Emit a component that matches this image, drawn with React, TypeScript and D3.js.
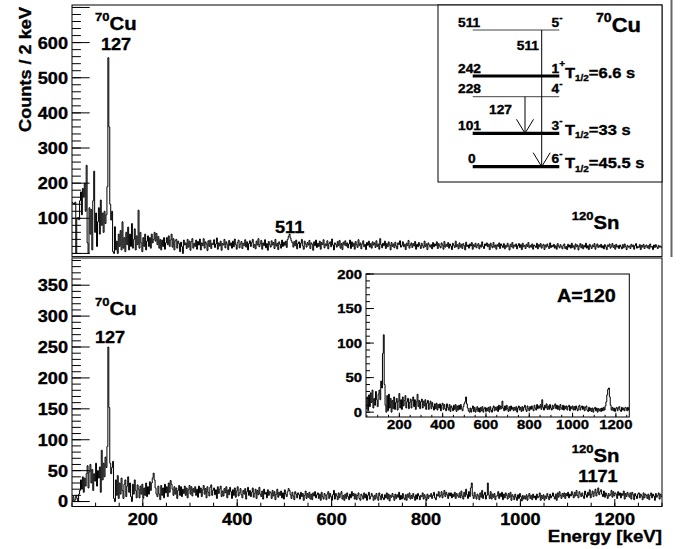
import React from "react";
import * as d3 from "d3";

// ---------- DATA ----------
const E0 = 50; // keV, first bin edge of main spectra
const BIN = 2; // keV per bin
// top panel: 70Cu spectrum (counts / 2 keV), bins from 50 keV
const topCounts = [
  145,142,140,146,0,98,102,96,150,175,
  110,185,160,200,120,251,30,0,130,55,
  125,10,150,234,60,115,20,90,130,55,
  152,80,115,60,120,85,110,190,557,360,
  140,95,120,5,0,76,10,35,0,55,
  20,65,10,90,15,45,5,60,25,75,
  10,55,20,85,15,40,70,10,50,25,
  123,15,60,30,5,45,20,55,10,35,
  50,20,45,15,55,30,40,60,35,57,
  25,48,15,40,10,38,20,45,12,30,
  45,25,50,20,38,55,18,42,10,36,
  40,15,35,28,5,32,20,0,38,24,
  30,14,40,18,35,9,33,42,15,29,
  20,38,12,34,24,41,10,30,22,42,
  15,33,27,8,36,20,38,14,29,25,
  39,17,27,44,12,30,21,35,9,28,
  24,40,16,33,26,11,37,22,30,15,
  35,19,41,25,12,31,38,16,27,34,
  14,29,22,39,18,33,10,28,36,20,
  31,40,17,26,13,35,24,42,19,27,
  37,12,30,22,39,16,28,9,34,25,
  18,36,24,31,14,40,21,29,11,33,
  26,15,38,20,32,23,35,17,40,48,
  55,44,36,30,18,34,22,38,13,28,
  33,16,29,40,21,12,35,27,18,31,
  24,37,14,30,26,9,33,22,38,17,
  29,20,35,12,31,25,39,16,27,22,
  36,13,28,33,19,41,24,10,30,26,
  18,34,22,37,15,28,11,32,24,36,
  21,30,16,27,38,14,33,20,29,12,
  34,25,17,39,22,30,13,27,36,19,
  26,11,31,23,35,18,28,15,33,24,
  30,17,36,20,27,12,42,25,16,29,
  22,35,14,28,19,33,24,10,31,20,
  27,16,32,21,13,30,25,36,18,23,
  33,19,26,11,29,22,37,15,24,30,
  17,28,21,34,12,26,19,31,23,14,
  29,22,16,35,20,27,11,30,24,18,
  25,13,31,19,27,22,33,14,28,21,
  16,30,24,12,34,18,26,20,31,15,
  27,21,11,29,23,17,35,19,25,13,
  30,18,26,14,28,22,10,32,20,24,
  15,27,21,31,12,25,19,29,16,23,
  28,13,24,18,33,20,14,27,22,30,
  19,26,11,29,21,16,31,18,24,12,
  25,20,30,14,27,22,17,28,13,23,
  18,29,21,10,26,19,31,15,24,20,
  27,13,22,28,17,25,11,29,19,23,
  14,26,20,31,16,23,18,27,12,24,
  21,17,29,13,25,19,28,15,22,26,
  11,24,18,27,20,14,30,17,23,19,
  26,15,22,12,28,21,16,25,19,13,
  23,27,14,20,11,26,18,24,15,29,
  17,22,12,27,19,24,10,21,28,16,
  25,13,23,18,29,15,22,11,26,20,
  14,24,19,28,12,21,27,17,23,18,
  26,16,22,13,25,19,11,24,20,27,
  15,21,28,17,23,12,26,18,22,14,
  24,19,13,25,16,27,20,11,23,18,
  21,14,26,19,24,12,22,28,15,20,
  17,25,11,23,18,26,14,21,24,16,
  22,13,27,18,20,11,24,17,25,19,
  14,23,18,21,16,
];
// bottom panel: 120Sn spectrum (counts / 2 keV), bins from 50 keV
const bottomCounts = [
  2,8,0,3,10,5,0,12,18,35,
  20,40,15,38,25,45,58,22,48,60,
  30,52,18,45,33,62,25,50,38,56,
  15,83,35,62,40,72,55,89,250,152,
  62,45,55,65,5,0,35,10,42,5,
  30,12,38,18,5,28,35,8,25,40,
  15,30,8,0,28,12,35,18,6,27,
  20,6,25,12,28,5,22,10,30,8,
  24,12,32,18,30,38,46,35,22,12,
  8,25,12,3,26,10,22,6,28,14,
  24,8,30,15,34,28,20,10,24,12,
  22,5,18,26,10,24,8,20,13,25,
  10,22,6,19,26,12,24,9,21,15,
  24,10,20,7,25,14,22,8,19,26,
  12,21,6,24,15,9,23,27,10,18,
  22,11,19,5,24,13,20,25,8,17,
  9,21,14,24,6,19,11,23,16,5,
  19,10,22,7,17,24,9,14,21,11,
  6,18,12,21,4,16,23,10,18,8,
  15,22,7,13,20,5,18,11,23,12,
  8,17,4,20,12,15,6,19,10,16,
  14,5,18,9,16,3,12,20,7,15,
  10,17,6,14,4,19,12,8,16,21,
  18,11,5,15,9,3,16,12,6,14,
  11,4,15,8,13,2,10,17,5,13,
  7,15,4,12,3,14,9,16,6,11,
  14,5,12,2,15,8,4,13,10,3,
  12,16,5,13,8,2,11,18,4,13,
  9,3,14,6,12,16,4,10,2,12,
  5,14,8,3,12,6,16,9,13,4,
  12,3,10,14,5,2,12,9,4,14,
  6,12,2,10,15,4,8,13,9,2,
  10,4,13,7,2,14,9,3,12,6,
  3,11,6,14,4,12,1,10,7,13,
  8,2,12,5,11,7,15,3,10,4,
  13,6,3,11,2,12,7,14,4,10,
  5,13,8,2,11,4,13,9,3,10,
  8,14,4,11,7,2,12,5,10,8,
  13,5,10,15,6,3,12,9,16,7,
  10,16,6,12,18,8,15,11,5,14,
  9,14,6,12,8,15,5,13,10,7,
  14,6,17,9,4,15,8,20,11,5,
  16,8,22,30,10,5,15,9,4,12,
  9,3,14,7,18,5,11,15,4,10,
  30,11,5,16,4,12,7,13,3,9,
  9,16,5,13,8,15,3,12,6,14,
  10,4,13,7,15,2,11,8,3,12,
  7,2,11,5,13,8,1,10,4,9,
  4,11,2,9,13,5,10,3,12,6,
  9,3,12,6,8,14,2,10,5,11,
  2,9,5,13,8,3,12,6,9,14,
  8,4,12,2,14,7,16,10,5,13,
  8,14,5,13,9,15,6,12,9,16,
  11,6,15,9,18,10,6,16,12,8,
  14,9,5,17,11,7,15,10,19,6,
  12,17,8,14,20,9,15,22,11,16,
  19,12,8,17,7,14,10,5,13,9,
  11,18,7,16,9,14,12,5,16,10,
  14,6,13,10,17,4,13,8,15,11,
  7,14,4,15,11,3,13,9,5,12,
  14,6,12,9,3,14,6,12,10,5,
  12,3,10,14,6,12,9,2,13,7,
  10,14,4,12,8,
];
// inset: A=120 spectrum, 4 keV bins from 46 keV
const INSET_E0 = 46;
const INSET_BIN = 4;
const insetCounts = [
  5,22,2,25,8,28,14,32,6,20,
  10,30,18,8,26,32,18,45,35,85,
  112,40,10,0,24,2,26,6,20,0,
  17,5,22,4,14,20,3,16,27,6,
  18,4,22,9,17,24,6,15,20,5,
  14,19,6,17,22,8,18,4,15,26,
  8,17,5,15,19,6,16,9,18,4,
  13,17,4,12,16,5,14,8,3,12,
  5,13,3,11,6,12,2,10,13,4,
  11,5,2,12,7,3,11,1,9,6,
  2,10,4,11,1,9,3,10,4,11,
  5,2,8,12,15,22,12,6,2,0,
  6,0,5,9,1,7,0,4,8,1,
  6,0,7,2,8,0,5,7,1,6,
  2,7,0,8,3,0,6,9,2,7,
  3,8,1,10,4,9,5,16,6,2,
  9,3,10,5,1,8,2,9,4,7,
  2,7,3,8,0,6,9,3,7,1,
  8,2,7,10,4,1,9,5,2,8,
  4,9,5,2,10,6,3,11,5,9,
  6,11,4,18,7,3,10,6,12,4,
  9,4,11,6,3,10,5,9,12,5,
  10,4,9,3,11,6,4,10,3,9,
  5,9,3,8,10,2,8,5,9,3,
  8,3,9,5,2,8,10,3,7,9,
  4,8,2,7,9,3,1,7,2,6,
  1,6,0,5,7,2,6,0,5,2,
  5,1,6,2,7,3,9,15,25,33,
  35,22,10,3,7,2,6,1,5,7,
  2,6,8,3,1,7,3,6,2,7,
  6,2,7,3,
];

const xTicks = [200, 400, 600, 800, 1000, 1200];
const topYTicks = [100, 200, 300, 400, 500, 600];
const bottomYTicks = [0, 50, 100, 150, 200, 250, 300, 350];
const insetXTicks = [200, 400, 600, 800, 1000, 1200];
const insetYTicks = [0, 50, 100, 150, 200];

// level scheme of 70Cu
const levelEnergies = ["511", "242", "228", "101", "0"];
const levelSpins = ["5", "1", "4", "3", "6"];
const levelParities = ["-", "+", "-", "-", "-"];
const levelThick = [false, true, false, true, true];
const levelHalfLives = ["", "6.6 s", "", "33 s", "45.5 s"];
const transitionLabels = ["511", "127"];
const transitionFrom = [0, 2];
const transitionTo = [4, 3];

// ---------- LAYOUT ----------
const FONT = "'Liberation Sans', Arial, Helvetica, sans-serif";
const SX = 1.1;
const FX0 = 72, FX1 = 662;
const levelY = [30, 76, 96.7, 133.3, 166.7];
const transitionX = [541.7, 525];
const transitionLabelPos = [[539, 49.5], [512, 113.5]];

const xMain = d3.scaleLinear().domain([50, 1300]).range([FX0, FX1]);
const topY = d3.scaleLinear().domain([-9, 707]).range([256.6, 5]);
const botY = d3.scaleLinear().domain([-8, 394]).range([506.5, 258]);
const xIn = d3.scaleLinear().domain([46, 1262]).range([366, 629.3]);
const yIn = d3.scaleLinear().domain([-7, 200]).range([417, 274]);

function T({ x, y, size, anchor = "start", rot = 0, children }: any) {
  return (
    <text
      transform={`translate(${x},${y}) rotate(${rot}) scale(${SX},1)`}
      fontSize={size}
      textAnchor={anchor}
      fontFamily={FONT}
      fontWeight="bold"
      fill="#000"
      stroke="#000"
      strokeWidth={0.35}
    >
      {children}
    </text>
  );
}

function Nuc({ x, y, mass, el, size = 17 }: any) {
  return (
    <T x={x} y={y} size={size}>
      <tspan fontSize={size * 0.64} dy={-size * 0.48}>{mass}</tspan>
      <tspan dy={size * 0.48}>{el}</tspan>
    </T>
  );
}

function histPath(counts: number[], e0: number, bw: number, x: any, y: any) {
  const pts: [number, number][] = [];
  counts.forEach((c, i) => {
    pts.push([x(e0 + i * bw), y(c)]);
    pts.push([x(e0 + (i + 1) * bw), y(c)]);
  });
  return d3.line()(pts) as string;
}

function steps(lo: number, hi: number, step: number) {
  const out: number[] = [];
  for (let v = Math.ceil(lo / step) * step; v <= hi + 1e-9; v += step) out.push(v);
  return out;
}

function YAxis({ scale, x0, majors, minorStep, majorLen, minorLen, labelSize, labelX, majorStep }: any) {
  const [lo, hi] = scale.domain();
  return (
    <g>
      {steps(lo, hi, minorStep).map((v: number) => (
        <line key={"m" + v} x1={x0} x2={x0 + minorLen} y1={scale(v)} y2={scale(v)} stroke="#000" strokeWidth={1} />
      ))}
      {steps(lo, hi, majorStep).map((v: number) => (
        <line key={"M" + v} x1={x0} x2={x0 + majorLen} y1={scale(v)} y2={scale(v)} stroke="#000" strokeWidth={1} />
      ))}
      {majors.map((v: number) => (
        <T key={"l" + v} x={labelX} y={scale(v) + labelSize * 0.36} size={labelSize} anchor="end">{v}</T>
      ))}
    </g>
  );
}

function XAxis({ scale, y0, majors, minorStep, majorLen, minorLen, labelSize, labelY }: any) {
  const [lo, hi] = scale.domain();
  return (
    <g>
      {steps(lo, hi, minorStep).map((v: number) => (
        <line key={"m" + v} x1={scale(v)} x2={scale(v)} y1={y0} y2={y0 - minorLen} stroke="#000" strokeWidth={1} />
      ))}
      {majors.map((v: number) => (
        <line key={"M" + v} x1={scale(v)} x2={scale(v)} y1={y0} y2={y0 - majorLen} stroke="#000" strokeWidth={1} />
      ))}
      {majors.map((v: number) => (
        <T key={"l" + v} x={scale(v)} y={labelY} size={labelSize} anchor="middle">{v}</T>
      ))}
    </g>
  );
}

export default function App() {
  const topPath = histPath(topCounts, E0, BIN, xMain, topY);
  const botPath = histPath(bottomCounts, E0, BIN, xMain, botY);
  const inPath = histPath(insetCounts, INSET_E0, INSET_BIN, xIn, yIn);
  const lx0 = 472.7, lx1 = 559.3;

  return (
    <svg width={685} height={549} style={{ position: "absolute", left: 0, top: 0, background: "#fff" }}>
      <rect x={0} y={0} width={685} height={549} fill="#fff" />
      <defs>
        <clipPath id="cTop"><rect x={FX0} y={5} width={FX1 - FX0} height={251.6} /></clipPath>
        <clipPath id="cBot"><rect x={FX0} y={258} width={FX1 - FX0} height={248.5} /></clipPath>
        <clipPath id="cIn"><rect x={366} y={274} width={263.3} height={143} /></clipPath>
      </defs>

      {/* pad border on the right of the top pad */}
      <line x1={671.5} x2={671.5} y1={0} y2={257} stroke="#666" strokeWidth={2} />

      {/* ---------------- TOP PANEL ---------------- */}
      <path d={topPath} fill="none" stroke="#000" strokeWidth={1} clipPath="url(#cTop)" />
      <rect x={FX0} y={5} width={FX1 - FX0} height={251.6} fill="none" stroke="#000" strokeWidth={1} />
      <YAxis scale={topY} x0={FX0} majors={topYTicks} majorStep={100} minorStep={20} majorLen={17.7} minorLen={8.9} labelSize={16.5} labelX={68} />
      <T x={31} y={7} size={16.5} anchor="end" rot={-90}>Counts / 2 keV</T>
      <Nuc x={95} y={30} mass="70" el="Cu" size={18.5} />
      <T x={116} y={49.5} size={16.5} anchor="middle">127</T>
      <T x={xMain(511)} y={233} size={16.5} anchor="middle">511</T>
      <Nuc x={571.7} y={229} mass="120" el="Sn" size={18.5} />

      {/* level scheme box */}
      <rect x={438} y={5} width={224} height={177} fill="#fff" stroke="#000" strokeWidth={1} />
      {levelEnergies.map((e, i) => (
        <g key={"lv" + i}>
          <line x1={lx0} x2={lx1} y1={levelY[i]} y2={levelY[i]} stroke={levelThick[i] ? "#000" : "#444"} strokeWidth={levelThick[i] ? 3.2 : 1} />
          <T x={e === "0" ? 468 : 458} y={levelY[i] - 3.5} size={12.5}>{e}</T>
          <T x={551.5} y={levelY[i] - 3.5} size={12.5}>
            {levelSpins[i]}
            <tspan fontSize={9} dy={-6}>{levelParities[i]}</tspan>
          </T>
          {levelHalfLives[i] && (
            <T x={565} y={levelY[i] + 1.5} size={15}>
              T<tspan fontSize={9} dy={3.5}>1/2</tspan><tspan dy={-3.5}>={levelHalfLives[i]}</tspan>
            </T>
          )}
        </g>
      ))}
      {transitionLabels.map((lab, i) => {
        const x = transitionX[i];
        const y0 = levelY[transitionFrom[i]];
        const y1 = levelY[transitionTo[i]];
        return (
          <g key={"tr" + i}>
            <line x1={x} x2={x} y1={y0} y2={y1} stroke="#000" strokeWidth={1} />
            <path d={`M${x - 8.5},${y1 - 14} L${x},${y1} L${x + 8.5},${y1 - 14}`} fill="none" stroke="#000" strokeWidth={1} />
            <T x={transitionLabelPos[i][0]} y={transitionLabelPos[i][1]} size={12.5} anchor="end">{lab}</T>
          </g>
        );
      })}
      <Nuc x={596} y={32} mass="70" el="Cu" size={20} />

      {/* ---------------- BOTTOM PANEL ---------------- */}
      <path d={botPath} fill="none" stroke="#000" strokeWidth={1} clipPath="url(#cBot)" />
      <rect x={FX0} y={258} width={FX1 - FX0} height={248.5} fill="none" stroke="#000" strokeWidth={1} />
      <YAxis scale={botY} x0={FX0} majors={bottomYTicks} majorStep={50} minorStep={10} majorLen={17.7} minorLen={8.9} labelSize={16.5} labelX={68} />
      <XAxis scale={xMain} y0={506.5} majors={xTicks} minorStep={50} majorLen={7.5} minorLen={3.8} labelSize={16.5} labelY={524.5} />
      <T x={662} y={541.5} size={17} anchor="end">Energy [keV]</T>
      <Nuc x={95} y={314.5} mass="70" el="Cu" size={18.5} />
      <T x={110} y={343} size={16.5} anchor="middle">127</T>
      <Nuc x={571.7} y={461.5} mass="120" el="Sn" size={18.5} />
      <T x={598} y={482} size={16.5} anchor="middle">1171</T>

      {/* inset */}
      <rect x={366} y={274} width={263.3} height={143} fill="#fff" />
      <path d={inPath} fill="none" stroke="#000" strokeWidth={1} clipPath="url(#cIn)" />
      <rect x={366} y={274} width={263.3} height={143} fill="none" stroke="#000" strokeWidth={1} />
      <YAxis scale={yIn} x0={366} majors={insetYTicks} majorStep={50} minorStep={10} majorLen={7.9} minorLen={4} labelSize={13.5} labelX={362} />
      <XAxis scale={xIn} y0={417} majors={insetXTicks} minorStep={50} majorLen={4.3} minorLen={2.2} labelSize={13.5} labelY={429} />
      <T x={557} y={302} size={18} anchor="start">A=120</T>
    </svg>
  );
}
